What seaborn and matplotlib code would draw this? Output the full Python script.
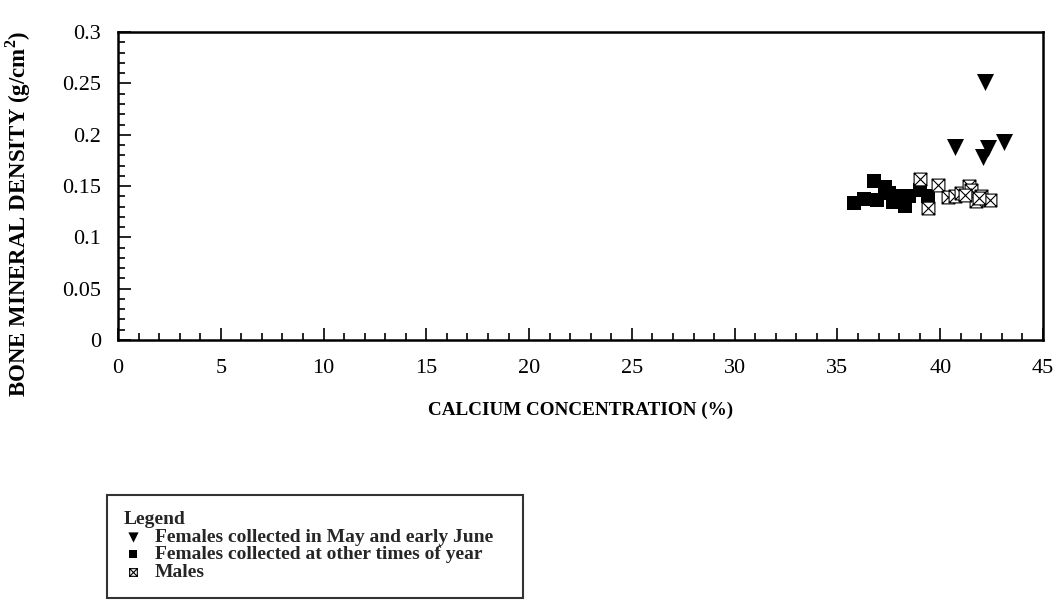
import numpy as np
import pandas as pd
import seaborn as sns
import matplotlib.pyplot as plt
from matplotlib.path import Path
from matplotlib.ticker import MultipleLocator

# --- data ---
may_x = [40.7, 42.2, 42.3, 42.1, 43.1]
may_y = [0.188, 0.251, 0.187, 0.178, 0.193]

other_x = [35.8, 36.3, 36.8, 36.9, 37.3, 37.5, 37.7, 38.0, 38.3, 38.5, 39.0, 39.4]
other_y = [0.133, 0.137, 0.155, 0.136, 0.149, 0.143, 0.134, 0.140, 0.131, 0.140, 0.146, 0.140]

male_x = [39.0, 39.9, 39.4, 40.4, 40.7, 41.0, 41.4, 41.5, 41.75, 42.0, 42.4, 41.2, 41.9]
male_y = [0.157, 0.151, 0.129, 0.139, 0.140, 0.143, 0.150, 0.146, 0.135, 0.140, 0.136, 0.141, 0.138]

labels = ['Females collected in May and early June',
          'Females collected at other times of year',
          'Males']

df = pd.concat([
    pd.DataFrame({'Ca': may_x, 'BMD': may_y, 'group': labels[0]}),
    pd.DataFrame({'Ca': other_x, 'BMD': other_y, 'group': labels[1]}),
    pd.DataFrame({'Ca': male_x, 'BMD': male_y, 'group': labels[2]}),
])

sns.set_theme(style="white")
plt.rcParams['font.family'] = ['Liberation Serif', 'DejaVu Serif']
plt.rcParams['mathtext.fontset'] = 'custom'
plt.rcParams['mathtext.rm'] = 'Liberation Serif:bold'
plt.rcParams['mathtext.bf'] = 'Liberation Serif:bold'

# boxed X marker for the males
box_x = Path(
    [(-1, -1), (1, -1), (1, 1), (-1, 1), (-1, -1), (-1, -1), (1, 1), (-1, 1), (1, -1)],
    [Path.MOVETO, Path.LINETO, Path.LINETO, Path.LINETO, Path.CLOSEPOLY,
     Path.MOVETO, Path.LINETO, Path.MOVETO, Path.LINETO])

fig = plt.figure(figsize=(10.6, 6.08), dpi=100)
ax = fig.add_axes([0.1113, 0.441, 0.8727, 0.506])

sns.scatterplot(data=df[df.group == labels[0]], x='Ca', y='BMD', marker='v', s=150,
                color='black', edgecolor='black', linewidth=0, label=labels[0], ax=ax)
sns.scatterplot(data=df[df.group == labels[1]], x='Ca', y='BMD', marker='s', s=105,
                color='black', edgecolor='black', linewidth=0, label=labels[1], ax=ax)
sns.scatterplot(data=df[df.group == labels[2]], x='Ca', y='BMD', marker=box_x, s=85,
                facecolor='white', edgecolor='black', linewidth=0.8, label=labels[2], ax=ax)

ax.set_xlim(0, 45)
ax.set_ylim(0, 0.3)
ax.xaxis.set_major_locator(MultipleLocator(5))
ax.xaxis.set_minor_locator(MultipleLocator(1))
ax.yaxis.set_major_locator(MultipleLocator(0.05))
ax.yaxis.set_minor_locator(MultipleLocator(0.01))
ax.set_yticks([0, 0.05, 0.1, 0.15, 0.2, 0.25, 0.3])
ax.set_yticklabels(['0', '0.05', '0.1', '0.15', '0.2', '0.25', '0.3'])
ax.tick_params(which='both', direction='in', top=False, right=False,
               bottom=True, left=True, color='black', width=1.2, labelsize=16,
               labelcolor='black')
ax.tick_params(which='major', length=9)
ax.tick_params(axis='x', which='major', pad=14)
ax.tick_params(axis='y', which='major', pad=12)
ax.tick_params(which='minor', length=5)
for sp in ax.spines.values():
    sp.set_color('black')
    sp.set_linewidth(1.8)

ax.set_xlabel('CALCIUM CONCENTRATION (%)', fontsize=13.8, fontweight='bold', color='black')
ax.set_ylabel(r'BONE MINERAL DENSITY (g/cm$^{\mathbf{2}}$)', fontsize=16.5,
              fontweight='bold', color='black')
ax.xaxis.set_label_coords(0.5, -0.2)
ax.yaxis.set_label_coords(-0.092, 0.41)

ax.get_legend().remove()
h, l = ax.get_legend_handles_labels()
leg = fig.legend(h, l, title='Legend', loc='upper left',
                 bbox_to_anchor=(0.101, 0.0164, 0.392, 0.17), mode='expand',
                 borderaxespad=0, frameon=True, fancybox=False, markerscale=0.6,
                 handlelength=1.0, handletextpad=0.6, labelspacing=0.0,
                 borderpad=0.85, prop={'weight': 'bold', 'size': 14},
                 title_fontproperties={'weight': 'bold', 'size': 14})
leg._legend_box.align = 'left'
leg.get_frame().set_edgecolor('black')
leg.get_frame().set_linewidth(1.5)

fig.savefig('out.png', dpi=100)
